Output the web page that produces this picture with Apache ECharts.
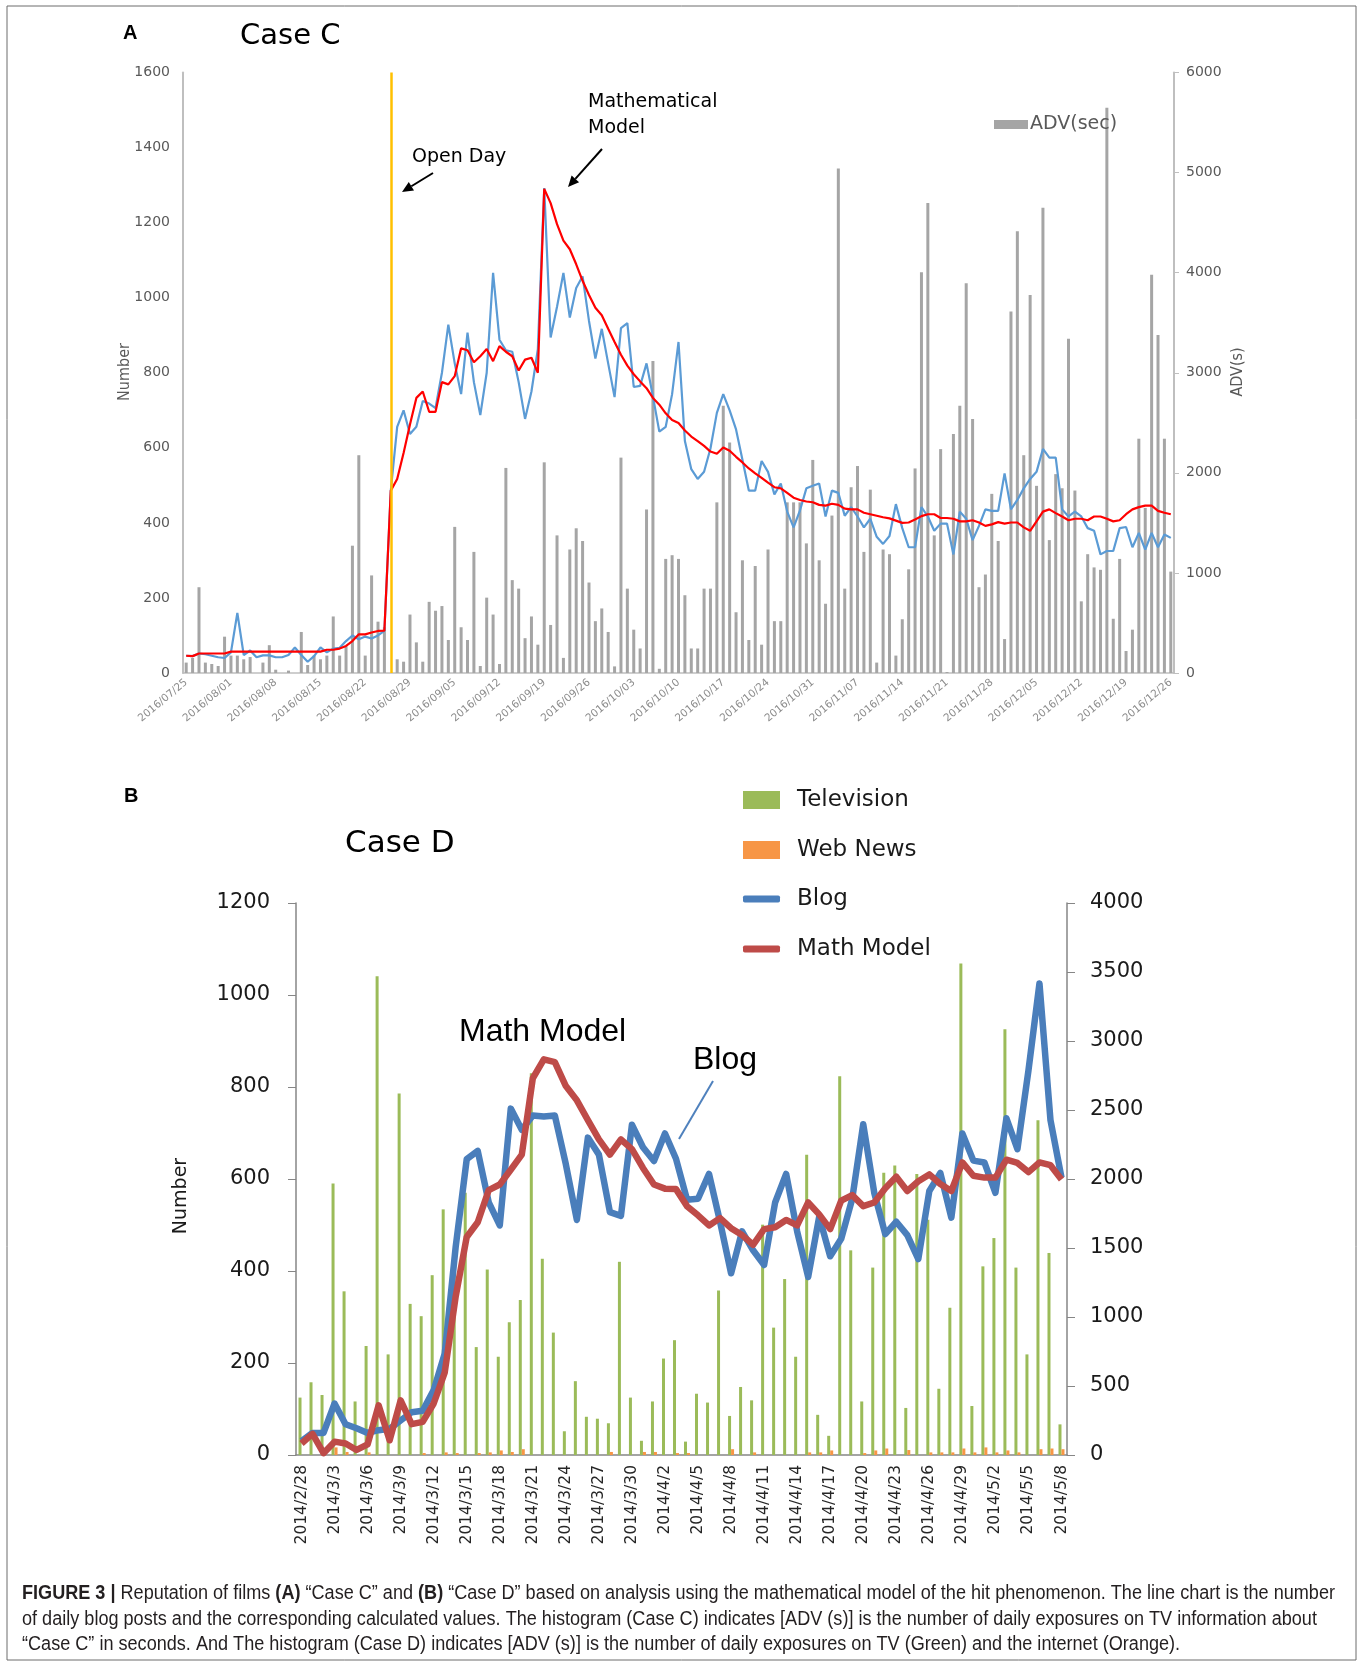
<!DOCTYPE html>
<html>
<head>
<meta charset="utf-8">
<script src="https://cdn.jsdelivr.net/npm/echarts@6/dist/echarts.min.js"></script>
<style>
html, body { margin: 0; padding: 0; background: #fff; }
#chart { width: 1363px; height: 1665px; }
</style>
</head>
<body>
<div id="chart"></div>
<script>
// ---- Case C (panel A): daily values from 2016/07/25 ----
var caseCOpenDay = '2016/08/26';
// blog posts per day (left axis)
var caseCBlog = [46, 45, 52, 50, 46, 42, 40, 55, 160, 48, 60, 42, 47, 47, 42, 42, 48, 68, 48, 30,
	45, 68, 55, 65, 67, 85, 100, 90, 97, 92, 100, 112, 486, 656, 700, 637, 656, 725, 718, 706,
	800, 928, 825, 743, 907, 775, 687, 800, 1066, 888, 860, 856, 775, 677, 750, 863, 1292, 894, 976, 1066,
	947, 1026, 1057, 938, 838, 917, 825, 735, 919, 932, 762, 765, 825, 737, 643, 656, 743, 882, 618, 543,
	517, 536, 598, 693, 743, 700, 649, 568, 486, 486, 565, 536, 476, 505, 430, 388, 433, 492, 499, 505,
	417, 486, 480, 419, 442, 417, 388, 411, 363, 344, 365, 450, 386, 335, 335, 442, 417, 379, 398, 398,
	316, 430, 411, 354, 392, 436, 432, 432, 532, 436, 461, 492, 517, 536, 597, 574, 574, 436, 417, 430,
	417, 386, 379, 316, 325, 325, 386, 389, 335, 373, 329, 373, 335, 369, 360];
// mathematical model (left axis)
var caseCModel = [46, 45, 52, 52, 52, 52, 52, 57, 57, 57, 57, 57, 57, 57, 57, 57, 57, 57, 57, 57,
	57, 57, 62, 62, 65, 72, 85, 103, 103, 108, 112, 113, 486, 517, 586, 662, 733, 750, 696, 696,
	775, 769, 791, 865, 860, 828, 844, 863, 831, 871, 856, 844, 806, 835, 840, 800, 1290, 1252, 1196, 1152,
	1129, 1089, 1045, 1007, 973, 953, 917, 882, 848, 819, 796, 777, 759, 733, 715, 692, 674, 666, 646, 630,
	618, 605, 590, 584, 601, 592, 576, 561, 545, 532, 520, 507, 495, 492, 480, 467, 461, 457, 455, 448,
	446, 451, 448, 438, 436, 436, 427, 423, 419, 415, 412, 406, 400, 401, 409, 418, 423, 423, 413, 413,
	411, 404, 404, 407, 401, 392, 396, 402, 398, 401, 401, 388, 379, 404, 430, 436, 426, 417, 407, 411,
	411, 407, 417, 417, 411, 404, 407, 423, 436, 442, 446, 446, 432, 427, 423];
// ADV seconds (right axis)
var caseCAdv = [104, 150, 857, 104, 90, 70, 363, 174, 174, 137, 160, 0, 104, 278, 33, 0, 24, 0, 410, 80,
	174, 137, 174, 565, 174, 268, 1272, 2176, 174, 975, 513, 457, 0, 137, 113, 584, 306, 113, 711, 622,
	669, 330, 1460, 457, 330, 1210, 70, 753, 584, 90, 2049, 928, 843, 348, 565, 283, 2105, 480, 1375, 151,
	1234, 1446, 1319, 904, 518, 645, 410, 66, 2152, 843, 433, 245, 1634, 3118, 42, 1140, 1177, 1140, 777, 245,
	245, 843, 843, 1705, 2670, 2303, 607, 1126, 330, 1069, 283, 1234, 518, 518, 1705, 1705, 1705, 1295, 2129, 1126,
	692, 1573, 5040, 843, 1856, 2068, 1210, 1832, 104, 1234, 1187, 174, 537, 1036, 2044, 4003, 4695, 1375, 2237, 10,
	2388, 2670, 3895, 2538, 857, 984, 1790, 1319, 339, 3612, 4413, 2176, 3777, 1870, 4648, 1328, 1987, 1846, 3339, 1823,
	716, 1187, 1055, 1031, 5647, 542, 1140, 220, 433, 2341, 1650, 3980, 3377, 2341, 1013];

// ---- Case D (panel B): daily values from 2014/2/28 ----
var caseDBlog = [30, 48, 48, 112, 67, 58, 48, 54, 57, 75, 93, 96, 141, 220, 453, 643, 661, 549, 499, 753,
	707, 738, 736, 738, 632, 511, 690, 653, 528, 520, 718, 669, 639, 699, 644, 555, 557, 611, 507, 395,
	486, 445, 413, 549, 611, 486, 387, 518, 432, 470, 557, 719, 570, 480, 507, 478, 426, 574, 613, 516,
	699, 640, 636, 570, 732, 665, 836, 1025, 728, 603];
var caseDModel = [25, 46, 4, 29, 25, 11, 23, 108, 32, 119, 67, 72, 112, 179, 345, 474, 506, 576, 588, 620,
	653, 819, 860, 854, 802, 771, 728, 686, 653, 686, 665, 624, 588, 579, 578, 541, 521, 499, 515, 493,
	478, 457, 491, 495, 511, 499, 549, 523, 491, 553, 565, 541, 549, 580, 605, 574, 595, 610, 589, 574,
	636, 607, 603, 603, 642, 635, 615, 636, 630, 599];
var caseDTv = [416, 527, 435, 1968, 1186, 388, 790, 3470, 729, 2620, 1095, 1006, 1303, 1780, 1400, 1900, 782, 1344, 712, 962,
	1123, 2766, 1422, 887, 172, 535, 277, 263, 230, 1400, 416, 103, 388, 699, 832, 97, 444, 380, 1192, 283,
	493, 396, 1669, 923, 1275, 712, 2176, 291, 139, 2744, 1483, 388, 1358, 2046, 2098, 341, 2037, 1705, 480, 1067,
	3562, 355, 1367, 1572, 3085, 1358, 729, 2425, 1464, 222];
var caseDWeb = [0, 0, 0, 55, 22, 0, 19, 0, 0, 0, 0, 14, 0, 19, 14, 0, 14, 19, 33, 22,
	42, 0, 0, 0, 0, 0, 0, 0, 22, 0, 0, 22, 22, 0, 14, 14, 0, 0, 0, 42,
	0, 19, 0, 0, 0, 0, 19, 19, 33, 0, 0, 14, 33, 47, 0, 36, 0, 19, 19, 19,
	47, 19, 55, 19, 33, 19, 0, 42, 47, 42];

function pad2(n) {
	return n < 10 ? '0' + n : '' + n;
}
// date labels
var caseCDates = [];
var day = new Date(2016, 6, 25);
for (var i = 0; i < caseCAdv.length; i++) {
	caseCDates.push(day.getFullYear() + '/' + pad2(day.getMonth() + 1) + '/' + pad2(day.getDate()));
	day.setDate(day.getDate() + 1);
}
var caseDDates = [];
day = new Date(2014, 1, 28);
for (var i = 0; i < caseDTv.length; i++) {
	caseDDates.push(day.getFullYear() + '/' + (day.getMonth() + 1) + '/' + day.getDate());
	day.setDate(day.getDate() + 1);
}

var sans = 'DejaVu Sans, Verdana, sans-serif';
var arial = 'Liberation Sans, Arial, sans-serif';
var plain = function(v) { return '' + v; };

function txt(x, y, text, size, opts) {
	opts = opts || {};
	return {
		type : 'text',
		x : x,
		y : y,
		rotation : opts.rotation || 0,
		scaleX : opts.scaleX || 1,
		silent : true,
		style : {
			text : text,
			fill : opts.color || '#000',
			font : (opts.weight || 'normal') + ' ' + size + 'px ' + (opts.family || sans),
			align : opts.align || 'left',
			verticalAlign : 'middle',
			textAlign : opts.align || 'left',
			textVerticalAlign : 'middle',
			rich : opts.rich
		}
	};
}

function arrow(x1, y1, x2, y2, color, width) {
	var a = Math.atan2(y2 - y1, x2 - x1);
	var len = 11, half = 5;
	var bx = x2 - len * Math.cos(a), by = y2 - len * Math.sin(a);
	return [{
		type : 'line',
		silent : true,
		shape : { x1 : x1, y1 : y1, x2 : bx, y2 : by },
		style : { stroke : color, lineWidth : width }
	}, {
		type : 'polygon',
		silent : true,
		shape : { points : [[x2, y2],
			[bx + half * Math.sin(a), by - half * Math.cos(a)],
			[bx - half * Math.sin(a), by + half * Math.cos(a)]] },
		style : { fill : color }
	}];
}

// caption: the first line is squeezed to the width it has in the figure
var capSize = 20;
var capLine1 = [['FIGURE 3 |', true], [' Reputation of films ', false], ['(A)', true], [' \u201cCase C\u201d and ', false],
	['(B)', true], [' \u201cCase D\u201d based on analysis using the mathematical model of the hit phenomenon. The line chart is the number', false]];
var ctx = document.createElement('canvas').getContext('2d');
var line1Width = 0;
capLine1.forEach(function(p) {
	ctx.font = (p[1] ? 'bold ' : '') + capSize + 'px ' + arial;
	line1Width += ctx.measureText(p[0]).width;
});
var capScale = 1313 / line1Width;
var capRich = {
	b : { fontWeight : 'bold', fontSize : capSize, fontFamily : arial, fill : '#231f20' }
};
var capOpts = { family : arial, color : '#231f20', rich : capRich, scaleX : capScale };
var capText1 = capLine1.map(function(p) { return p[1] ? '{b|' + p[0] + '}' : p[0]; }).join('');

var graphics = [
	{
		type : 'rect',
		silent : true,
		z : -10,
		shape : { x : 7, y : 6, width : 1349, height : 1654 },
		style : { fill : 'none', stroke : '#6d6d6d', lineWidth : 1 }
	},
	txt(123, 33, 'A', 20, { weight : 'bold', family : arial }),
	txt(240, 36, 'Case C', 29),
	txt(125, 372, 'Number', 16, { rotation : Math.PI / 2, align : 'center', color : '#595959', family : 'DejaVu Sans Condensed, sans-serif' }),
	txt(1238, 372, 'ADV(s)', 16, { rotation : Math.PI / 2, align : 'center', color : '#595959', family : 'DejaVu Sans Condensed, sans-serif' }),
	txt(412, 157, 'Open Day', 19),
	txt(588, 102, 'Mathematical', 19),
	txt(588, 128, 'Model', 19),
	txt(124, 796, 'B', 20, { weight : 'bold', family : arial }),
	txt(345, 844, 'Case D', 31),
	txt(181, 1196, 'Number', 19, { rotation : Math.PI / 2, align : 'center', color : '#1a1a1a' }),
	txt(459, 1032, 'Math Model', 32, { family : arial }),
	txt(693, 1060, 'Blog', 32, { family : arial }),
	{
		type : 'line',
		silent : true,
		shape : { x1 : 713, y1 : 1081, x2 : 679, y2 : 1139 },
		style : { stroke : '#4F81BD', lineWidth : 2 }
	},
	txt(22, 1593, capText1, capSize, capOpts),
	txt(22, 1619, 'of daily blog posts and the corresponding calculated values. The histogram (Case C) indicates [ADV (s)] is the number of daily exposures on TV information about', capSize, capOpts),
	txt(22, 1644, '\u201cCase C\u201d in seconds. And The histogram (Case D) indicates [ADV (s)] is the number of daily exposures on TV (Green) and the internet (Orange).', capSize, capOpts)
];
graphics = graphics.concat(arrow(433, 173, 402, 192, '#000', 2));
graphics = graphics.concat(arrow(602, 149, 568, 187, '#000', 2));

var myChart = echarts.init(document.getElementById('chart'), null, { renderer : 'canvas' });

var option = {
	animation : false,
	backgroundColor : '#fff',
	graphic : graphics,
	legend : [ {
		data : [ { name : 'ADV(sec)', icon : 'rect' } ],
		left : 989,
		top : 110,
		itemWidth : 34,
		itemHeight : 9,
		selectedMode : false,
		textStyle : { fontFamily : sans, fontSize : 19, color : '#595959', padding : [0, 0, 0, -3] }
	}, {
		data : [ { name : 'Television', icon : 'rect' }, { name : 'Web News', icon : 'rect' } ],
		orient : 'vertical',
		left : 738,
		top : 781,
		itemWidth : 37,
		itemHeight : 18,
		itemGap : 22,
		selectedMode : false,
		textStyle : { fontFamily : sans, fontSize : 23, color : '#1a1a1a', lineHeight : 28, padding : [0, 0, 0, 12] }
	}, {
		data : [ { name : 'Blog', icon : 'roundRect' }, { name : 'Math Model', icon : 'roundRect' } ],
		orient : 'vertical',
		left : 738,
		top : 880,
		itemWidth : 37,
		itemHeight : 7,
		itemGap : 22,
		selectedMode : false,
		textStyle : { fontFamily : sans, fontSize : 23, color : '#1a1a1a', lineHeight : 28, padding : [0, 0, 0, 12] }
	} ],
	grid : [ {
		left : 183,
		top : 72.5,
		width : 991,
		height : 600.5
	}, {
		left : 296,
		top : 903,
		width : 771,
		height : 552
	} ],
	xAxis : [ {
		gridIndex : 0,
		type : 'category',
		data : caseCDates,
		axisLine : { lineStyle : { color : '#BFBFBF', width : 1.5 } },
		axisTick : { show : false },
		axisLabel : {
			interval : 6,
			rotate : 40,
			fontFamily : sans,
			fontSize : 10.5,
			color : '#8C8C8C',
			margin : 8
		},
		splitLine : { show : false }
	}, {
		gridIndex : 1,
		type : 'category',
		data : caseDDates,
		axisLine : { lineStyle : { color : '#868686', width : 1.5 } },
		axisTick : { interval : 0, length : 8, lineStyle : { color : '#868686' } },
		axisLabel : {
			interval : 2,
			rotate : 90,
			fontFamily : sans,
			fontSize : 15.5,
			color : '#262626',
			margin : 10
		},
		splitLine : { show : false }
	} ],
	yAxis : [ {
		gridIndex : 0,
		min : 0,
		max : 1600,
		interval : 200,
		axisLine : { show : true, lineStyle : { color : '#BFBFBF', width : 2 } },
		axisTick : { show : false },
		axisLabel : { formatter : plain, fontFamily : sans, fontSize : 14, color : '#595959', margin : 13 },
		splitLine : { show : false }
	}, {
		gridIndex : 0,
		position : 'right',
		min : 0,
		max : 6000,
		interval : 1000,
		axisLine : { show : true, lineStyle : { color : '#BFBFBF', width : 2 } },
		axisTick : { show : true, length : 5, lineStyle : { color : '#BFBFBF' } },
		axisLabel : { formatter : plain, fontFamily : sans, fontSize : 14, color : '#595959', margin : 12 },
		splitLine : { show : false }
	}, {
		gridIndex : 1,
		min : 0,
		max : 1200,
		interval : 200,
		axisLine : { show : true, lineStyle : { color : '#868686', width : 1.5 } },
		axisTick : { show : true, length : 8, lineStyle : { color : '#868686' } },
		axisLabel : { formatter : plain, fontFamily : sans, fontSize : 21, color : '#1a1a1a', margin : 26 },
		splitLine : { show : false }
	}, {
		gridIndex : 1,
		position : 'right',
		min : 0,
		max : 4000,
		interval : 500,
		axisLine : { show : true, lineStyle : { color : '#868686', width : 1.5 } },
		axisTick : { show : true, length : 8, lineStyle : { color : '#868686' } },
		axisLabel : { formatter : plain, fontFamily : sans, fontSize : 21, color : '#1a1a1a', margin : 23 },
		splitLine : { show : false }
	} ],
	series : [ {
		name : 'ADV(sec)',
		type : 'bar',
		xAxisIndex : 0,
		yAxisIndex : 1,
		data : caseCAdv,
		barWidth : 3,
		itemStyle : { color : '#A5A5A5' },
		markLine : {
			silent : true,
			symbol : [ 'none', 'none' ],
			label : { show : false },
			lineStyle : { color : '#FFC000', width : 2.5, type : 'solid' },
			data : [ { xAxis : caseCOpenDay } ]
		}
	}, {
		name : 'Blog C',
		type : 'line',
		xAxisIndex : 0,
		yAxisIndex : 0,
		data : caseCBlog,
		symbol : 'none',
		lineStyle : { color : '#5B9BD5', width : 2.2 }
	}, {
		name : 'Model C',
		type : 'line',
		xAxisIndex : 0,
		yAxisIndex : 0,
		data : caseCModel,
		symbol : 'none',
		lineStyle : { color : '#FF0000', width : 2.2 }
	}, {
		name : 'Television',
		type : 'bar',
		xAxisIndex : 1,
		yAxisIndex : 3,
		data : caseDTv,
		barWidth : 3,
		barGap : '0%',
		itemStyle : { color : '#9BBB59' }
	}, {
		name : 'Web News',
		type : 'bar',
		xAxisIndex : 1,
		yAxisIndex : 3,
		data : caseDWeb,
		barWidth : 3,
		barGap : '0%',
		itemStyle : { color : '#F79646' }
	}, {
		name : 'Blog',
		type : 'line',
		xAxisIndex : 1,
		yAxisIndex : 2,
		data : caseDBlog,
		symbol : 'none',
		lineStyle : { color : '#4A7EBB', width : 6.5, join : 'round' },
		itemStyle : { color : '#4A7EBB' }
	}, {
		name : 'Math Model',
		type : 'line',
		xAxisIndex : 1,
		yAxisIndex : 2,
		data : caseDModel,
		symbol : 'none',
		lineStyle : { color : '#BE4B48', width : 6.5, join : 'round' },
		itemStyle : { color : '#BE4B48' }
	} ]
};

myChart.setOption(option);
</script>
</body>
</html>
